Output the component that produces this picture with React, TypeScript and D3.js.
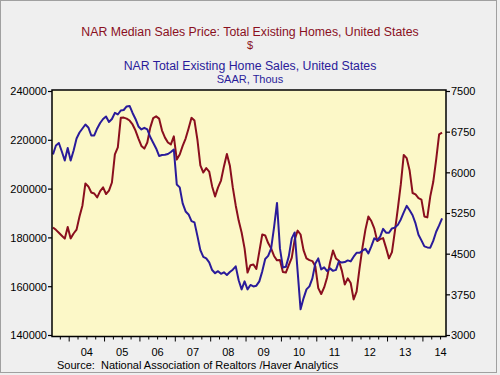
import React from 'react';
import * as d3 from 'd3';

// Monthly data, July 2003 .. July 2014
const START_YEAR = 2003;
const START_MONTH = 7;

// NAR Median Sales Price: Total Existing Homes ($) - left axis
const priceValues = [
  184300, 183300, 182100, 180900, 179700, 184500, 179800, 181800, 183400, 188800,
  193300, 202300, 201100, 198600, 198200, 196600, 199200, 200700, 198000, 199400,
  202700, 214200, 217100, 229200, 229300, 228900, 228100, 226500, 224000, 220700,
  217700, 216600, 219100, 225200, 229100, 229800, 228900, 224000, 221100, 219100,
  218300, 221600, 212100, 214200, 217700, 220700, 224800, 229200, 228100, 220300,
  209700, 206800, 208600, 207200, 201100, 197000, 200700, 203500, 209300, 214400,
  209700, 200700, 193300, 187100, 182200, 175700, 165800, 168800, 169100, 167300,
  174400, 181400, 181000, 177900, 175700, 172600, 170800, 170900, 166000, 165800,
  168800, 171800, 179300, 183000, 181400, 175000, 171600, 170900, 170500, 168400,
  159400, 157000, 159700, 163800, 169900, 174800, 171600, 170600, 166600, 160900,
  163400, 161500, 154800, 158000, 167500, 176100, 183400, 188800, 186900, 183900,
  178700, 179500, 179900, 175900, 171600, 174200, 182800, 192100, 201900, 214000,
  212700, 207600, 198400, 197800, 196300, 195700, 188800, 188400, 197000, 202900,
  212100, 222400, 223100,
];

// NAR Total Existing Home Sales (SAAR, Thous) - right axis
const salesValues = [
  6340, 6505, 6551, 6394, 6228, 6459, 6228, 6413, 6634, 6744,
  6818, 6892, 6837, 6689, 6689, 6818, 6919, 6993, 7039, 6938,
  6993, 7107, 7076, 7150, 7159, 7224, 7233, 7104, 6993, 6855,
  6800, 6831, 6800, 6661, 6555, 6449, 6311, 6330, 6332, 6348,
  6385, 6431, 5786, 5731, 5436, 5288, 5233, 5110, 5086, 4837,
  4575, 4450, 4422, 4348, 4207, 4149, 4186, 4137, 4166, 4116,
  4170, 4214, 4275, 4019, 3851, 3998, 3851, 3932, 3904, 3919,
  3998, 4183, 4411, 4468, 4601, 4994, 5445, 4606, 4256, 4266,
  4459, 4791, 4901, 4183, 3482, 3685, 3851, 3906, 4054, 4330,
  4422, 4219, 4256, 4188, 4238, 4192, 4210, 4367, 4345, 4354,
  4385, 4367, 4453, 4524, 4524, 4564, 4597, 4514, 4643, 4791,
  4758, 4822, 4966, 4896, 4896, 4975, 4990, 5040, 5141, 5270,
  5390, 5310, 5218, 5067, 4859, 4754, 4643, 4625, 4619, 4745,
  4914, 5030, 5159,
];

const priceTicks = [140000, 160000, 180000, 200000, 220000, 240000];
const salesTicks = [3000, 3750, 4500, 5250, 6000, 6750, 7500];
const years = [2004, 2005, 2006, 2007, 2008, 2009, 2010, 2011, 2012, 2013, 2014];
const yearLabels = ['04', '05', '06', '07', '08', '09', '10', '11', '12', '13', '14'];

const title1 = 'NAR Median Sales Price: Total Existing Homes, United States';
const unit1 = '$';
const title2 = 'NAR Total Existing Home Sales, United States';
const unit2 = 'SAAR, Thous';
const source = 'Source:  National Association of Realtors /Haver Analytics';

const RED = '#8a0f1e';
const BLUE = '#2a1b9a';
const FONT = '"Liberation Sans", Arial, sans-serif';

export default function App() {
  const W = 500;
  const H = 375;
  const L = 52;
  const R = 446;
  const T = 90;
  const B = 336.5;

  const x = d3.scaleLinear().domain([2003.5, 2014.667]).range([51.5, 446.5]);
  const yL = d3.scaleLinear().domain([140000, 240000]).range([335.5, 91.5]);
  const yR = d3.scaleLinear().domain([3000, 7500]).range([335.5, 91.5]);

  const t = (i: number) => START_YEAR + (START_MONTH - 1) / 12 + (i + 0.5) / 12;

  const priceLine = d3
    .line<number>()
    .x((_, i) => x(t(i)))
    .y((d) => yL(d));
  const salesLine = d3
    .line<number>()
    .x((_, i) => x(t(i)))
    .y((d) => yR(d));

  const quarterTicks: number[] = [];
  for (let y = 2003; y <= 2014; y++) {
    for (let q = 0; q < 4; q++) {
      const v = y + q / 4;
      if (x(v) >= L && x(v) <= R) quarterTicks.push(v);
    }
  }

  return (
    <svg
      width={W}
      height={H}
      style={{ position: 'absolute', left: 0, top: 0, fontFamily: FONT }}
    >
      <rect x={0} y={0} width={W} height={H} fill="#efefef" />
      <rect x={0.5} y={0.5} width={W - 4} height={H - 3} fill="none" stroke="#a0a0a0" />

      <text x={250} y={36} textAnchor="middle" fontSize={12.3} fill={RED}>{title1}</text>
      <text x={250} y={49} textAnchor="middle" fontSize={11} fill={RED}>{unit1}</text>
      <text x={250} y={70} textAnchor="middle" fontSize={12.3} fill={BLUE}>{title2}</text>
      <text x={250} y={83} textAnchor="middle" fontSize={11} fill={BLUE}>{unit2}</text>

      <rect x={L} y={T} width={R - L} height={B - T} fill="#fcf8c8" />

      <path d={priceLine(priceValues) || ''} fill="none" stroke={RED} strokeWidth={2} strokeLinejoin="round" />
      <path d={salesLine(salesValues) || ''} fill="none" stroke={BLUE} strokeWidth={2} strokeLinejoin="round" />

      <rect x={L} y={T} width={R - L} height={B - T} fill="none" stroke="#000" strokeWidth={1.5} />

      {priceTicks.map((v) => (
        <g key={'l' + v}>
          <line x1={L - 4} x2={L} y1={yL(v)} y2={yL(v)} stroke="#000" strokeWidth={1.2} />
          <text x={L - 5} y={yL(v)} dy="0.35em" textAnchor="end" fontSize={11} fill="#000">
            {d3.format('d')(v)}
          </text>
        </g>
      ))}
      {salesTicks.map((v) => (
        <g key={'r' + v}>
          <line x1={R} x2={R + 4} y1={yR(v)} y2={yR(v)} stroke="#000" strokeWidth={1.2} />
          <text x={R + 5} y={yR(v)} dy="0.35em" textAnchor="start" fontSize={11} fill="#000">
            {d3.format('d')(v)}
          </text>
        </g>
      ))}
      {quarterTicks.map((v) => {
        const major = Math.abs(v - Math.round(v)) < 1e-6;
        return (
          <line
            key={'q' + v}
            x1={x(v)}
            x2={x(v)}
            y1={B}
            y2={B + (major ? 5 : 3)}
            stroke="#000"
            strokeWidth={1}
          />
        );
      })}
      {years.map((yr, i) => (
        <text key={'y' + yr} x={x(yr + 0.5)} y={356} textAnchor="middle" fontSize={11} fill="#000">
          {yearLabels[i]}
        </text>
      ))}
      <text x={57} y={368.5} fontSize={11} fill="#000" style={{ whiteSpace: 'pre' }}>
        {source}
      </text>
    </svg>
  );
}
